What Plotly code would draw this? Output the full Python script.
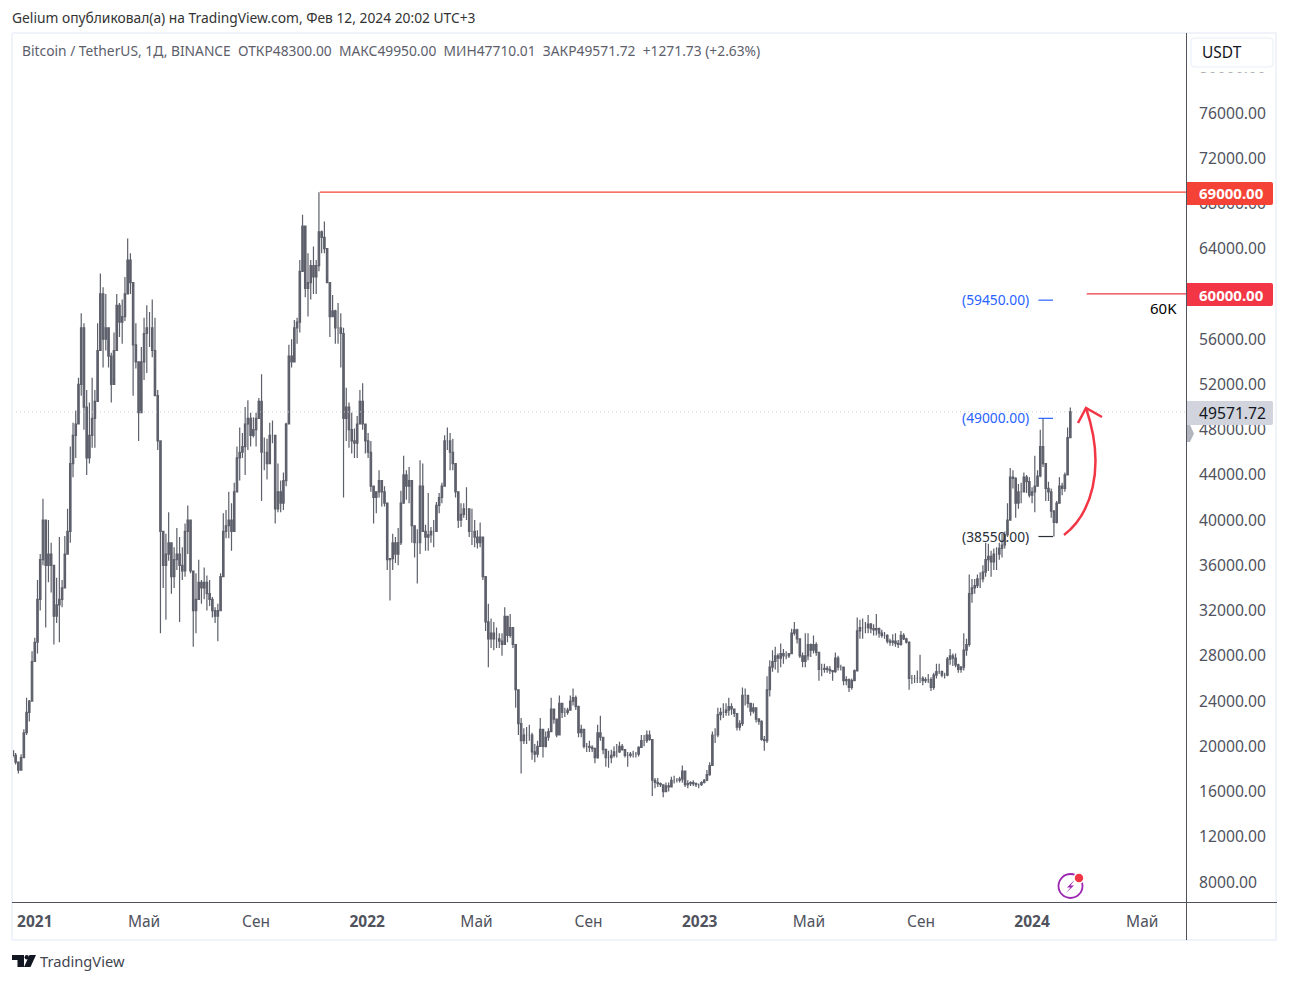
import pandas as pd
import plotly.graph_objects as go

# Price data, thousands of USDT, one bar every 3 days
first_bar = "2020-12-08"
bar_days = 3
highs = [
 19.6,19.4,18.6,19.3,21.5,24.3,24.1,28.4,
 29.6,34.7,37,41.9,38,40,38,33.5,34.9,38.5,
 34.7,38.6,41,46.5,48.6,49.7,52.6,58.3,57.4,51.5,
 50.4,52.6,51.5,57.4,61.8,60.6,60,56.8,54.8,56.6,
 60,59.2,59.5,61.5,64.9,63.6,60.6,57.4,51,55.3,
 57.9,59,58.4,59.5,57.9,51.5,46.8,38.8,38.8,40.7,
 37.6,37.6,39.3,38.5,37.6,39.7,41.3,38.2,35.3,35.3,
 36.5,34.7,35.8,35.1,34.7,33.2,32.3,32.6,35.3,40.6,
 40.9,42.5,41.5,43.3,46.5,48.2,47.7,50,50.6,49.5,
 49.1,49.5,50.8,52.9,47.3,47.2,48.6,48.8,47.3,45,
 43.5,44.2,48.6,55.5,56,57.7,57.9,63,67,63,
 63.6,63,64.2,63,69,65.6,66.4,63.6,61,59.9,
 58.6,59.2,58.3,57,51.7,50.4,49.5,48.1,49.2,51.5,
 52.1,48.2,47.7,47,42.9,42.4,44.4,43.5,43,40.9,
 36.4,38.8,38.5,39.3,42.6,45.7,44.4,44.7,43.5,39.4,
 39.2,45.3,45,39.6,42.4,39.4,40,41.6,42.4,43.3,
 47.5,48.2,47.7,47.2,43.8,42,41.5,41.5,42.9,40.9,
 41,40,39.1,39.8,38,34,32.6,31.3,31,30.5,
 30,30,32.3,30.4,31.7,30.5,29,25,22.5,21.6,
 21.7,21.9,21.2,20.2,20.5,22.5,21,21.3,21.6,24.3,
 22.9,22.4,24.5,23.8,23.4,23.4,24.5,25.1,24.5,23.6,
 21.9,21.5,20.3,20.5,20.1,19.9,21.9,22.7,20.3,19.8,
 19.6,19.7,20,20.2,20.4,20.2,19.6,19.5,19.5,19.6,
 19.5,20,21,21,21.4,21.4,20.6,17.2,17.2,16.8,
 16.6,16.8,16.8,17.3,17.4,17.2,17.3,18.3,17.8,17,
 16.9,17,16.8,16.7,16.9,17.1,17.9,18.6,21.3,21.6,
 23.4,23.4,23.8,23.8,24.3,23.8,23.2,22.9,22.3,25.2,
 25.1,24.5,23.5,23.8,23.4,22.5,22.3,20.9,26.2,27.6,
 28.5,28.8,28.2,29.1,28.6,28.4,28.2,30.4,31,30.4,
 29.5,28.3,30,30,29.1,29.8,29.2,28.3,27.3,27.3,
 27.1,27.1,26.7,28.3,28,27.2,27,26.2,26,26,
 26.8,31.4,31.2,31.3,31,31.6,30.9,30.8,31.7,30.5,
 30.3,30.1,29.9,29.5,29.9,30,29.4,30.2,30,29.6,
 29.3,26.3,26.3,26.7,28.1,26.2,26.1,26.4,26.1,26.5,
 27.3,27.3,26.7,26.5,27.9,28.6,28.2,28.2,27.3,27.1,
 30,29.5,35.2,34.8,34.8,35.2,35.4,36,38,37.9,
 37.3,37.5,37.6,38,38.8,39,41.5,44.6,44.4,43.8,
 43.2,43.3,44.2,44,43.8,42.9,45.7,44.4,48,49,
 45,43.4,42.8,40.9,41.7,43.8,43.3,44.2,48.2,49.95,
]
lows = [
 19.0,18.4,17.6,17.9,19.0,21.0,22.2,24.0,
 27.5,28.2,32,36,30.5,34.5,33.6,29,30.9,29.2,
 32.3,35.3,37.3,38,43.8,45.5,48.5,51,48,44,
 45,46.4,46.4,53,58.8,53.5,55,53.5,50.4,52.6,
 56.8,56.2,55.6,57.6,60,60,51,53.4,47,52.4,
 52.4,53,55.3,54.4,53.5,46.2,30,34,31.2,36.4,
 33.5,34,35.6,31,34.7,35,37,35.3,28.8,30,
 33.1,32.6,33,32,32.4,31.4,30.9,29.3,33.5,36.4,
 38.4,38.4,37.3,39.7,42.6,43.5,45.5,44,46.2,46.5,
 47.3,46.5,49.5,41.7,44.4,43.6,46.2,46.8,39.7,40.7,
 40.7,40.9,43,49,53.5,54,55.6,56.6,63,59.7,
 58,59.5,60,60,62,63.6,63.6,61.5,56.2,58.3,
 55.6,55.6,53.5,42,47,46.4,45.9,45.5,45.5,49.5,
 48,45.9,45.5,42.5,39.7,40.6,42,41.2,41.2,35.6,
 32.9,35.6,36.2,36,37.8,42,41.8,41.5,38,36.7,
 34.4,37,39,37.3,37.3,38,37.6,40.6,40.6,41.5,
 43,46.2,44.4,44.4,42,39.3,39.4,40.2,40,38.5,
 37.8,37.6,37.5,37.6,34.7,30.2,27,28.7,28.5,28.7,
 28.7,28,29,29.2,29.6,28.7,23.4,21,17.6,20.2,
 20.2,20.5,18.8,18.6,19,20,19,19.9,20.5,21.5,
 22,20.8,21,22.5,22.6,22.8,23.2,23.6,23.2,20.8,
 20.8,19.8,19.5,19.5,19.5,18.5,18.9,20.5,19.3,18.2,
 18.1,18.5,19,19,19.4,19.6,19,18.2,19,19,
 19,19.1,19.9,20,20.3,20.5,15.6,16.3,16.4,16.4,
 15.5,16,16,16.5,16.7,16.8,16.8,16.8,16.4,16.3,
 16.5,16.5,16.4,16.3,16.5,16.7,16.9,17.4,18.3,20.3,
 20.8,22.3,22.5,22.7,22.7,22.8,22.6,21.4,21.4,21.8,
 23.6,23.4,22.7,22.9,22.1,21.9,20.5,19.6,20.3,24.4,
 26.6,26.8,26.5,27,27.3,27.7,27.8,28.5,29.8,29.1,
 27.8,27,27,27.6,27.9,28.2,28,25.8,26.2,26.5,
 26.5,26.4,25.8,26.5,26.7,26.7,25.4,25.4,24.8,25,
 26,26.6,29.5,29.5,30,30,30,29.8,29.8,29.6,
 29.6,29.5,29.1,28.9,28.9,28.8,28.7,28.9,29.4,29.1,
 25,25.5,25.6,25.6,25.6,25.4,25.6,25.6,24.9,25,
 26,26.4,26.1,26,26.2,27.2,27.1,27,26.5,26.5,
 26.7,28,28.8,32.7,33.5,34,34,34.5,35,35.5,
 35,35.6,35.6,36.5,36.7,37.5,38.5,40.4,42.8,40.2,
 41,41.5,42.6,42.4,42,41.5,40.7,43,43.8,44.7,
 41.7,41.7,40.2,38.55,39.7,41.5,42.2,42.5,44,47.71,
]
closes = [
 19.2,18.6,17.9,19.0,21.2,23.0,24.0,27.5,
 29.2,33,36.5,40,36,37,36,31.5,32.5,33,
 34,37,39,45,47.5,48.5,52,57,50,45.5,
 47.5,49,50.5,55,60,56,57,54.5,52,55,
 59,57.5,58,60,63,61,55.5,54,49.5,54,
 56.5,57,57,55,51,47,39,36,37,38,
 35,36.5,37,36,35.5,39,40,35.5,32,33,
 34.5,34,34.5,33.5,33,32,31.5,32,35,39,
 39.5,40,39,42.5,45.5,46,46.5,48.5,49,47.5,
 48,49,50.5,46,46,45,47.5,47.5,41,42.5,
 41.5,43.5,48.5,54.5,54,57,57.5,62,66,60.5,
 61,62.5,61.5,62.5,65.5,65,64,61,58,58.5,
 57,57,56.5,49,50,48,47,46.8,48.5,50.5,
 48.5,47,46,43,42,42.5,43.5,42.5,41.5,36.5,
 36.6,38,37,38,41.5,44,43,43.5,39.5,38,
 38,43,39,38.5,38.7,39,39,41.3,42,43,
 47,47,46,45,42.5,40,40.5,41,41,39,
 39,38.5,38,38.5,35,31,29.5,30,29.5,29.5,
 29.3,29,31.5,29.8,30.5,29,25,22,20.5,21,
 21,21,19.5,19.3,20,21.5,20,20.8,21.3,23.3,
 22.4,21,23.8,23,23,23.2,24,24.3,23.5,21.2,
 21.5,20,20,19.9,19.8,19,21.2,20.8,19.7,19,
 19,19.2,19.5,19.5,20,19.7,19.2,19.2,19.3,19.3,
 19.3,19.9,20.5,20.5,21,20.6,17,16.8,16.7,16.6,
 16,16.5,16.4,17,17,17,17.1,17.8,16.6,16.7,
 16.8,16.7,16.6,16.6,16.8,17,17.5,18.3,21,21,
 22.8,23,23,23.2,23.5,23.3,22.9,21.7,22,24.5,
 24.5,23.8,23.1,23.4,22.4,22.2,20.6,20.5,25,27,
 27.5,28,27.8,28.2,28,28,28.2,30,30.3,29.5,
 28,27.5,28,29,28.5,29,28.3,26.8,26.8,26.9,
 26.8,26.7,26.6,27.8,27,27,25.8,25.9,25.2,25.8,
 26.7,30.2,30.5,30.5,30.5,30.8,30.4,30.3,30.4,30,
 29.8,29.8,29.3,29.2,29.3,29.1,29,29.8,29.5,29.2,
 26,26,26,26,26,25.8,25.9,25.9,25.2,26.3,
 26.6,26.6,26.3,26.3,27.7,28,27.8,27.2,26.8,27,
 28.5,29,33.5,34,34.2,34.8,34.8,35.4,36.5,36.8,
 36.3,37,37,37.5,37.8,38.7,40,43.8,43.7,41.5,
 42.5,42.5,43.8,43.4,42.2,42.5,43,43.9,46.5,45,
 42.8,42.5,40.8,39.8,41.5,43,42.8,44,47.3,49.57172,
]
first_open = 19.6
assert len(highs) == len(lows) == len(closes)

y_ticks = [8000, 12000, 16000, 20000, 24000, 28000, 32000, 36000, 40000, 44000,
           48000, 52000, 56000, 60000, 64000, 68000, 72000, 76000, 80000]
x_ticks = ["2021-01-01", "2021-05-01", "2021-09-01", "2022-01-01", "2022-05-01", "2022-09-01",
           "2023-01-01", "2023-05-01", "2023-09-01", "2024-01-01", "2024-05-01"]
x_labels = ["<b>2021</b>", "Май", "Сен", "<b>2022</b>", "Май", "Сен",
            "<b>2023</b>", "Май", "Сен", "<b>2024</b>", "Май"]
levels = [59450, 49000, 38550]
level_colors = ["#2962ff", "#2962ff", "#2a2e39"]
last_price = 49571.72
peak = 69000
target = 60000

FONT = "Noto Sans"
W, H = 1289, 982
L, R, T, B = 12, 1186, 33, 902
GREY = "#5d606b"
AXIS = "#50535e"


def px(x):
    return (x - L) / (R - L)


def py(y):
    return (B - y) / (B - T)


def path(points, close=True):
    s = "M" + " L".join(f"{px(a):.5f},{py(b):.5f}" for a, b in points)
    return s + (" Z" if close else "")


def rect(x0, y0, x1, y1, fill, line=None, width=0, r=2):
    d = (f"M{px(x0)},{py(y0)} L{px(x1 - r)},{py(y0)} Q{px(x1)},{py(y0)} {px(x1)},{py(y0 + r)} "
         f"L{px(x1)},{py(y1 - r)} Q{px(x1)},{py(y1)} {px(x1 - r)},{py(y1)} L{px(x0)},{py(y1)} Z")
    return dict(type="path", xref="paper", yref="paper", path=d, fillcolor=fill,
                line=dict(color=line or fill, width=width), layer="above")


def poly(points, fill):
    return dict(type="path", xref="paper", yref="paper", path=path(points), fillcolor=fill,
                line=dict(width=0), layer="above")


def seg(x0, y0, x1, y1, color, width=1, dash="solid"):
    return dict(type="line", xref="paper", yref="paper", x0=px(x0), y0=py(y0), x1=px(x1), y1=py(y1),
                line=dict(color=color, width=width, dash=dash), layer="above")


def label(x, y, text, size, color, anchor="left"):
    return dict(xref="paper", yref="paper", x=px(x), y=py(y), text=text, showarrow=False,
                xanchor=anchor, yanchor="middle", font=dict(family=FONT, size=size, color=color),
                borderpad=0, borderwidth=0)


dates = pd.date_range(first_bar, periods=len(highs), freq=f"{bar_days}D")
opens = [first_open] + closes[:-1]
scale = 1000

fig = go.Figure(go.Candlestick(
    x=dates,
    open=[v * scale for v in opens],
    high=[v * scale for v in highs],
    low=[v * scale for v in lows],
    close=[v * scale for v in closes],
    increasing=dict(line=dict(color=GREY, width=1.2), fillcolor=GREY),
    decreasing=dict(line=dict(color=GREY, width=1.2), fillcolor=GREY),
    whiskerwidth=0,
    hoverinfo="skip",
    showlegend=False,
))

x_end = "2024-06-18"
shapes = [
    # dotted last price line
    dict(type="line", xref="paper", yref="y", x0=0, x1=1, y0=last_price, y1=last_price,
         line=dict(color="#c8cad0", width=1, dash="1px,3px"), layer="above"),
    # horizontal rays
    dict(type="line", xref="x", yref="y", x0="2021-11-10", x1=x_end, y0=peak, y1=peak,
         line=dict(color="#f44336", width=1.3), layer="above"),
    dict(type="line", xref="x", yref="y", x0="2024-03-01", x1=x_end, y0=target, y1=target,
         line=dict(color="#f23645", width=1.3), layer="above"),
    # frame
    seg(12, 33, 1277, 33, "#f0f3fa", 2), seg(12, 940, 1277, 940, "#f0f3fa", 2),
    seg(12, 33, 12, 940, "#f0f3fa", 2), seg(1276, 33, 1276, 940, "#f0f3fa", 2),
    seg(12, 902.5, 1277, 902.5, AXIS, 1), seg(1186.5, 33, 1186.5, 940, AXIS, 1),
    # USDT button (covers most of the tick beneath it)
    rect(1187.5, 34, 1275, 72.5, "#ffffff", r=0),
    dict(type="path", xref="paper", yref="paper", fillcolor="#ffffff", layer="above",
         line=dict(color="#f0f3fa", width=1.5),
         path=(f"M{px(1195)},{py(38)} L{px(1269)},{py(38)} Q{px(1273)},{py(38)} {px(1273)},{py(42)} "
               f"L{px(1273)},{py(63)} Q{px(1273)},{py(67)} {px(1269)},{py(67)} L{px(1195)},{py(67)} "
               f"Q{px(1191)},{py(67)} {px(1191)},{py(63)} L{px(1191)},{py(42)} Q{px(1191)},{py(38)} "
               f"{px(1195)},{py(38)} Z")),
    # price tags
    rect(1187, 182, 1273, 205, "#f44336"),
    rect(1187, 283, 1273, 306, "#f23645"),
    rect(1187, 401, 1273, 425, "#d1d4dc"),
    # grey flag
    poly([(1187, 425), (1190, 425), (1194, 433.5), (1190, 442), (1187, 442)], "#b2b5be"),
    # curved red arrow
    dict(type="path", xref="paper", yref="paper", layer="above", line=dict(color="#f23645", width=2.5),
         path=(f"M{px(1064)},{py(535)} C{px(1090)},{py(515)} {px(1107)},{py(470)} {px(1086)},{py(408)}")),
    dict(type="path", xref="paper", yref="paper", layer="above", line=dict(color="#f23645", width=2.5),
         path=path([(1078, 423), (1086, 408), (1102, 417)], close=False)),
    # lightning icon
    dict(type="circle", xref="paper", yref="paper", x0=px(1058.5), x1=px(1082.5), y0=py(898), y1=py(874),
         line=dict(color="#9c27b0", width=1.8), fillcolor="rgba(0,0,0,0)", layer="above"),
    poly([(1075, 879.5), (1067, 887.5), (1070.5, 887.5), (1066, 893), (1074, 885.5), (1070.5, 885.5)], "#9c27b0"),
    dict(type="circle", xref="paper", yref="paper", x0=px(1074), x1=px(1084), y0=py(883), y1=py(873),
         line=dict(color="#ffffff", width=1.5), fillcolor="#f23645", layer="above"),
    # TradingView logo
    poly([(12, 955), (24, 955), (24, 967), (17.5, 967), (17.5, 960), (12, 960)], "#131722"),
    dict(type="circle", xref="paper", yref="paper", x0=px(24.6), x1=px(29), y0=py(959.5), y1=py(955),
         line=dict(width=0), fillcolor="#131722", layer="above"),
    poly([(29.5, 955), (36, 955), (30.5, 967), (24, 967)], "#131722"),
]
# small dashes next to the level labels
for v, c in zip(levels, level_colors):
    shapes.append(dict(type="line", xref="x", yref="y", x0="2024-01-08", x1="2024-01-24", y0=v, y1=v,
                       line=dict(color=c, width=1.2), layer="above"))

annotations = [
    label(12, 17.8, "Gelium опубликовал(а) на TradingView.com, Фев 12, 2024 20:02 UTC+3", 13.8, "#333333"),
    label(22, 50.3, "Bitcoin / TetherUS, 1Д, BINANCE&nbsp;&nbsp;ОТКР48300.00&nbsp;&nbsp;МАКС49950.00&nbsp;&nbsp;"
                    "МИН47710.01&nbsp;&nbsp;ЗАКР49571.72&nbsp;&nbsp;+1271.73 (+2.63%)", 13.8, "#5d606b"),
    label(1202, 52, "USDT", 15.5, "#131722"),
    label(1199, 193, f"<b>{peak:.2f}</b>", 15, "#ffffff"),
    label(1199, 294.5, f"<b>{target:.2f}</b>", 15, "#ffffff"),
    label(1199, 412.5, f"{last_price:.2f}", 15.7, "#131722"),
    label(1177, 308, "60K", 15, "#000000", "right"),
    label(40, 961, "TradingView", 14.7, "#434651"),
]
for v, c, yp in zip(levels, level_colors, [299.5, 417.5, 536.5]):
    annotations.append(label(1028.5, yp, f"({v:.2f})", 13.8, c, "right"))

fig.update_layout(
    width=W, height=H, autosize=False,
    margin=dict(l=L, r=W - R, t=T, b=H - B, pad=0),
    paper_bgcolor="#ffffff", plot_bgcolor="#ffffff",
    boxgap=0.25,
    showlegend=False,
    hovermode=False,
    dragmode=False,
    shapes=shapes,
    annotations=annotations,
    xaxis=dict(type="date", range=["2020-12-07", x_end], showgrid=False, zeroline=False,
               rangeslider=dict(visible=False), showline=False, ticks="",
               tickmode="array", tickvals=x_ticks, ticktext=x_labels, ticklabelstandoff=8,
               tickangle=0, automargin=False, tickfont=dict(family=FONT, size=15.5, color=AXIS)),
    yaxis=dict(side="right", range=[6232, 83074], showgrid=False, zeroline=False, showline=False, ticks="",
               tickmode="array", tickvals=y_ticks, tickformat=".2f", ticklabelstandoff=12,
               automargin=False, tickfont=dict(family=FONT, size=15.7, color=AXIS)),
)

fig.write_html("out.html", config=dict(displayModeBar=False, staticPlot=True),
               post_script="document.body.style.margin='0';document.body.style.overflow='hidden';")
